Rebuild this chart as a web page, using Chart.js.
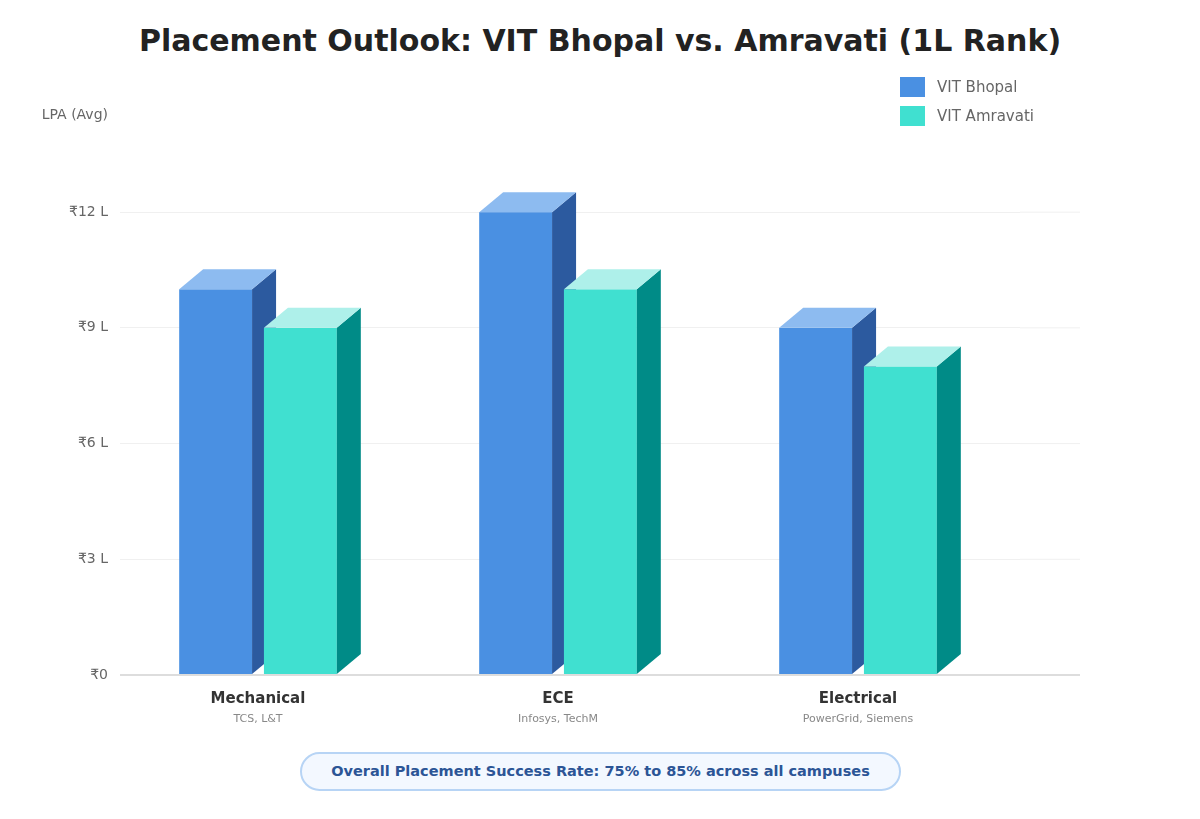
<!DOCTYPE html>
<html lang="en">
  <head>
    <meta charset="UTF-8" />
    <meta name="viewport" content="width=device-width, initial-scale=1.0" />
    <script src="https://cdn.jsdelivr.net/npm/chart.js"></script>
    <title>Placement Outlook</title>
    <style>
      * {
        padding: 0;
        margin: 0;
        box-sizing: border-box;
      }
      body {
        width: 1200px;
        height: 819px;
        background-color: #fff;
        font-family: 'DejaVu Sans', sans-serif;
        position: relative;
        overflow: hidden;
      }
      .title {
        position: absolute;
        top: 23px;
        left: 0;
        width: 1200px;
        text-align: center;
        font-size: 30px;
        font-weight: 700;
        color: #222;
      }
      .chart-box {
        position: absolute;
        left: 0;
        top: 0;
      }
      .legend {
        position: absolute;
        left: 900px;
        top: 77px;
      }
      .legend-item {
        display: flex;
        align-items: center;
        height: 20px;
        margin-bottom: 9px;
        font-size: 15px;
        color: #666;
      }
      .legend-item .swatch {
        width: 25px;
        height: 20px;
        margin-right: 12px;
      }
      .badge {
        position: absolute;
        left: 300px;
        top: 752px;
        width: 601px;
        height: 39px;
        border: 2px solid #b7d4f5;
        border-radius: 20px;
        background-color: #f3f8ff;
        text-align: center;
        line-height: 35px;
        font-size: 14.5px;
        font-weight: 700;
        color: #2c5596;
      }
    </style>
  </head>
  <body>
    <div class="title">Placement Outlook: VIT Bhopal vs. Amravati (1L Rank)</div>
    <div class="chart-box">
      <canvas id="placementChart" width="1200" height="819"></canvas>
    </div>
    <div class="legend" id="legend"></div>
    <div class="badge">Overall Placement Success Rate: 75% to 85% across all campuses</div>
    <script>
      const categories = ['Mechanical', 'ECE', 'Electrical'];
      const recruiters = ['TCS, L&T', 'Infosys, TechM', 'PowerGrid, Siemens'];
      const bhopalLpa = [10, 12, 9];
      const amravatiLpa = [9, 10, 8];

      // 3d look: front / side / top colours
      const shades = [
        { front: '#4a90e2', side: '#2c5a9f', top: '#8dbbf0' },
        { front: '#40e0d0', side: '#008b87', top: '#aef0ea' },
      ];
      const depthX = 24;
      const depthY = 20;
      const gridRightExtra = 60;

      const gridColor = (v) => (v === 0 ? '#dddddd' : '#f0f0f0');
      const gridWidth = (v) => (v === 0 ? 2 : 1);

      const bars3d = {
        id: 'bars3d',
        beforeDatasetDraw() {
          return false;
        },
        afterDatasetsDraw(chart) {
          const ctx = chart.ctx;
          chart.data.datasets.forEach((ds, di) => {
            const c = shades[di];
            chart.getDatasetMeta(di).data.forEach((bar) => {
              const w = bar.width;
              const x0 = bar.x - w / 2 - depthX / 2;
              const x1 = x0 + w;
              const top = bar.y;
              const bottom = bar.base;
              ctx.save();
              ctx.fillStyle = c.front;
              ctx.fillRect(x0, top, w, bottom - top);
              ctx.fillStyle = c.side;
              ctx.beginPath();
              ctx.moveTo(x1, top);
              ctx.lineTo(x1 + depthX, top - depthY);
              ctx.lineTo(x1 + depthX, bottom - depthY);
              ctx.lineTo(x1, bottom);
              ctx.closePath();
              ctx.fill();
              ctx.fillStyle = c.top;
              ctx.beginPath();
              ctx.moveTo(x0, top);
              ctx.lineTo(x0 + depthX, top - depthY);
              ctx.lineTo(x1 + depthX, top - depthY);
              ctx.lineTo(x1, top);
              ctx.closePath();
              ctx.fill();
              ctx.restore();
            });
          });
        },
      };

      // grid lines run a little past the plot on the right
      const gridExtend = {
        id: 'gridExtend',
        beforeDatasetsDraw(chart) {
          const ctx = chart.ctx;
          const y = chart.scales.y;
          const right = chart.chartArea.right;
          ctx.save();
          y.ticks.forEach((t) => {
            const py = y.getPixelForValue(t.value);
            ctx.strokeStyle = gridColor(t.value);
            ctx.lineWidth = gridWidth(t.value);
            ctx.beginPath();
            ctx.moveTo(right, py);
            ctx.lineTo(right + gridRightExtra, py);
            ctx.stroke();
          });
          ctx.restore();
        },
      };

      const axisText = {
        id: 'axisText',
        afterDraw(chart) {
          const ctx = chart.ctx;
          const x = chart.scales.x;
          const area = chart.chartArea;
          ctx.save();
          ctx.textAlign = 'center';
          ctx.textBaseline = 'middle';
          categories.forEach((name, i) => {
            const px = x.getPixelForValue(i) - depthX / 2;
            ctx.fillStyle = '#333';
            ctx.font = 'bold 15px "DejaVu Sans"';
            ctx.fillText(name, px, area.bottom + 24);
            ctx.fillStyle = '#888';
            ctx.font = '11px "DejaVu Sans"';
            ctx.fillText(recruiters[i], px, area.bottom + 44);
          });
          ctx.textAlign = 'right';
          ctx.fillStyle = '#666';
          ctx.font = '14px "DejaVu Sans"';
          ctx.fillText('LPA (Avg)', area.left - 12, 115);
          ctx.restore();
        },
      };

      const data = {
        labels: categories,
        datasets: [
          { label: 'VIT Bhopal', data: bhopalLpa, backgroundColor: shades[0].front },
          { label: 'VIT Amravati', data: amravatiLpa, backgroundColor: shades[1].front },
        ],
      };

      const config = {
        type: 'bar',
        data: data,
        options: {
          responsive: false,
          animation: false,
          layout: { padding: { left: 0, top: 135, right: 180, bottom: 144 } },
          datasets: { bar: { barPercentage: 0.86, categoryPercentage: 0.565 } },
          plugins: {
            legend: { display: false },
            tooltip: { enabled: false },
          },
          scales: {
            x: { display: false },
            y: {
              min: 0,
              max: 14,
              border: { display: false },
              grid: {
                drawTicks: false,
                color: (c) => gridColor(c.tick.value),
                lineWidth: (c) => gridWidth(c.tick.value),
              },
              ticks: {
                stepSize: 3,
                includeBounds: false,
                padding: 12,
                color: '#666',
                font: { family: 'DejaVu Sans', size: 14 },
                callback: (v) => (v === 0 ? '₹0' : '₹' + v + ' L'),
              },
              afterFit: (s) => {
                s.width = 120;
              },
            },
          },
        },
        plugins: [gridExtend, bars3d, axisText],
      };

      const placementChart = new Chart(document.getElementById('placementChart'), config);

      const legend = document.getElementById('legend');
      placementChart.data.datasets.forEach((ds) => {
        const item = document.createElement('div');
        item.className = 'legend-item';
        item.innerHTML = '<span class="swatch" style="background:' + ds.backgroundColor + '"></span>' + ds.label;
        legend.appendChild(item);
      });
    </script>
  </body>
</html>
